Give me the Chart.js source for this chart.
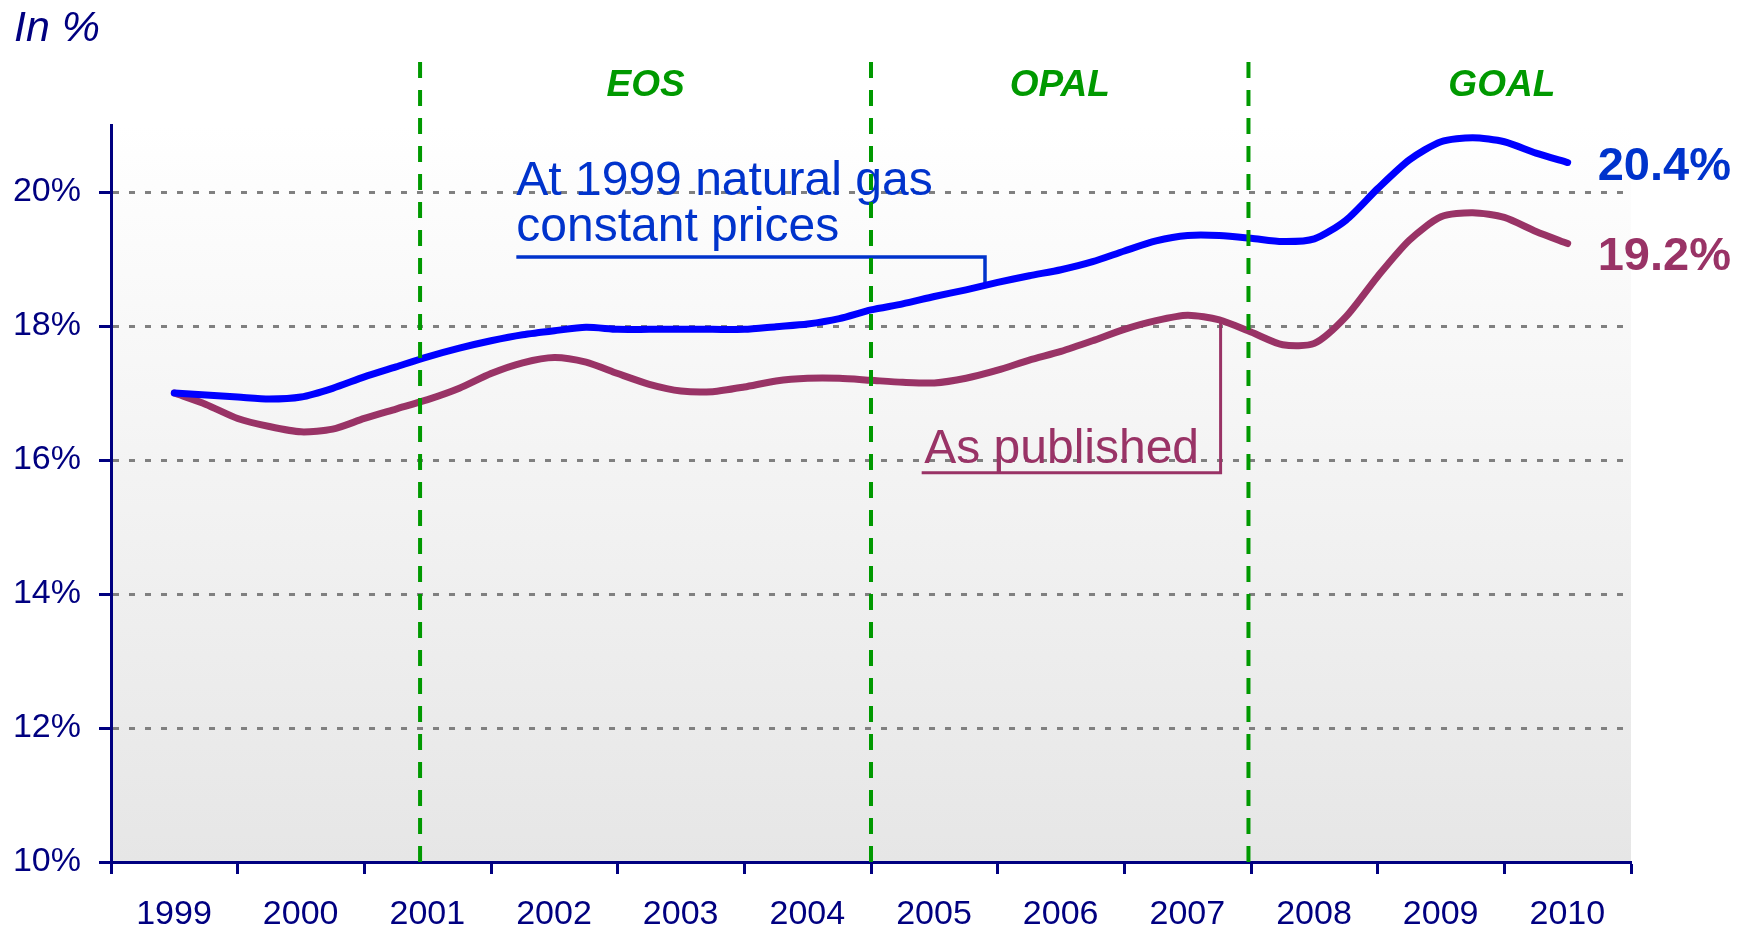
<!DOCTYPE html>
<html>
<head>
<meta charset="utf-8">
<title>Share of natural gas</title>
<script src="https://cdn.jsdelivr.net/npm/chart.js"></script>
<style>
    html, body { margin: 0; padding: 0; background: #fff; }
    #wrap { width: 1748px; height: 928px; }
</style>
</head>
<body>
<div id="wrap"><canvas id="gasChart" width="1748" height="928"></canvas></div>
<script>
// quarterly points, 1999 to 2010
const quarters = [
    1999, 1999.25, 1999.5, 1999.75, 2000, 2000.25, 2000.5, 2000.75,
    2001, 2001.25, 2001.5, 2001.75, 2002, 2002.25, 2002.5, 2002.75,
    2003, 2003.25, 2003.5, 2003.75, 2004, 2004.25, 2004.5, 2004.75,
    2005, 2005.25, 2005.5, 2005.75, 2006, 2006.25, 2006.5, 2006.75,
    2007, 2007.25, 2007.5, 2007.75, 2008, 2008.25, 2008.5, 2008.75,
    2009, 2009.25, 2009.5, 2009.75, 2010
];
const atConstantPrices = [
    17.00, 16.97, 16.94, 16.91, 16.94, 17.07, 17.24, 17.39,
    17.54, 17.67, 17.78, 17.87, 17.93, 17.98, 17.95, 17.95,
    17.95, 17.95, 17.95, 17.99, 18.03, 18.11, 18.24, 18.33,
    18.44, 18.54, 18.65, 18.75, 18.84, 18.96, 19.12, 19.27,
    19.35, 19.35, 19.31, 19.26, 19.30, 19.58, 20.05, 20.48,
    20.75, 20.81, 20.75, 20.58, 20.44
];
const asPublished = [
    17.00, 16.83, 16.62, 16.50, 16.42, 16.46, 16.62, 16.76,
    16.90, 17.07, 17.29, 17.45, 17.53, 17.46, 17.29, 17.13,
    17.03, 17.02, 17.09, 17.18, 17.22, 17.22, 17.19, 17.16,
    17.15, 17.22, 17.34, 17.49, 17.62, 17.78, 17.95, 18.08,
    18.16, 18.09, 17.91, 17.72, 17.74, 18.14, 18.74, 19.28,
    19.63, 19.69, 19.62, 19.41, 19.23
];
const yearLabels = ['1999', '2000', '2001', '2002', '2003', '2004', '2005', '2006', '2007', '2008', '2009', '2010'];
const yTicks = [10, 12, 14, 16, 18, 20];
const endLabels = ['20.4%', '19.2%'];

// programme periods
const phaseBreaks = [2000.94, 2004.5, 2007.48];
const phaseNames = ['EOS', 'OPAL', 'GOAL'];
const phaseCentres = [2002.72, 2005.99, 2009.48];

const NAVY = '#000080';
const BLUE = '#0000ff';
const BLUE_TEXT = '#0033cc';
const PURPLE = '#993366';
const GREEN = '#009900';
const FONT = 'Arial, "Liberation Sans", sans-serif';

Chart.defaults.font.family = FONT;

// value of a series at some x
function valueAt(series, x) {
    for (let i = 1; i < quarters.length; i++) {
        if (x <= quarters[i]) {
            const t = (x - quarters[i - 1]) / (quarters[i] - quarters[i - 1]);
            return series[i - 1] + t * (series[i] - series[i - 1]);
        }
    }
    return series[series.length - 1];
}

// background, notes with leader lines, headings
const notesPlugin = {
    id: 'notes',
    beforeDraw(chart) {
        const { ctx, chartArea: a } = chart;
        const grad = ctx.createLinearGradient(0, a.top, 0, a.bottom);
        grad.addColorStop(0, '#ffffff');
        grad.addColorStop(1, '#e6e6e6');
        ctx.save();
        ctx.fillStyle = grad;
        ctx.fillRect(a.left, a.top, a.right - a.left, a.bottom - a.top);
        ctx.restore();
    },
    beforeDatasetsDraw(chart) {
        const { ctx } = chart;
        const xs = chart.scales.x, ys = chart.scales.y;
        ctx.save();
        ctx.font = '48px ' + FONT;
        ctx.textBaseline = 'alphabetic';
        ctx.textAlign = 'left';

        // blue note
        const bx1 = xs.getPixelForValue(2001.70), bx2 = xs.getPixelForValue(2005.40);
        const bLead = ys.getPixelForValue(19.03);
        ctx.fillStyle = BLUE_TEXT;
        ctx.fillText('At 1999 natural gas', bx1, ys.getPixelForValue(19.96));
        ctx.fillText('constant prices', bx1, ys.getPixelForValue(19.27));
        ctx.strokeStyle = BLUE_TEXT;
        ctx.lineWidth = 3.5;
        ctx.beginPath();
        ctx.moveTo(bx1, bLead);
        ctx.lineTo(bx2, bLead);
        ctx.lineTo(bx2, ys.getPixelForValue(valueAt(atConstantPrices, 2005.40)));
        ctx.stroke();

        // purple note
        const px1 = xs.getPixelForValue(2004.90), px2 = xs.getPixelForValue(2007.26);
        const pLead = ys.getPixelForValue(15.81);
        ctx.fillStyle = PURPLE;
        ctx.fillText('As published', xs.getPixelForValue(2004.92), ys.getPixelForValue(15.95));
        ctx.strokeStyle = PURPLE;
        ctx.lineWidth = 3;
        ctx.beginPath();
        ctx.moveTo(px1, pLead);
        ctx.lineTo(px2, pLead);
        ctx.lineTo(px2, ys.getPixelForValue(valueAt(asPublished, 2007.26)));
        ctx.stroke();
        ctx.restore();
    },
    afterDraw(chart) {
        const { ctx } = chart;
        const xs = chart.scales.x, ys = chart.scales.y;
        ctx.save();

        // unit
        ctx.fillStyle = NAVY;
        ctx.font = 'italic 43px ' + FONT;
        ctx.textAlign = 'left';
        ctx.textBaseline = 'alphabetic';
        ctx.fillText('In %', 14, 41);

        // programme names
        ctx.fillStyle = GREEN;
        ctx.font = 'italic bold 37px ' + FONT;
        ctx.textAlign = 'center';
        ctx.textBaseline = 'middle';
        phaseNames.forEach((name, i) => {
            ctx.fillText(name, xs.getPixelForValue(phaseCentres[i]), ys.getPixelForValue(21.58));
        });

        // last values
        const lastX = xs.getPixelForValue(quarters[quarters.length - 1]) + 30;
        ctx.font = 'bold 47px ' + FONT;
        ctx.textAlign = 'left';
        ctx.fillStyle = BLUE_TEXT;
        ctx.fillText(endLabels[0], lastX, ys.getPixelForValue(atConstantPrices[atConstantPrices.length - 1]) + 5);
        ctx.fillStyle = PURPLE;
        ctx.fillText(endLabels[1], lastX, ys.getPixelForValue(asPublished[asPublished.length - 1] - 0.13) + 5);
        ctx.restore();
    }
};

// boundaries between the years, for the tick marks
const yearEdges = yearLabels.map(y => Number(y) - 0.5).concat(Number(yearLabels[yearLabels.length - 1]) + 0.5);

const datasets = [
    {
        label: 'At 1999 natural gas constant prices',
        data: quarters.map((q, i) => ({ x: q, y: atConstantPrices[i] })),
        borderColor: BLUE,
        borderWidth: 7,
        tension: 0.25,
        borderCapStyle: 'round',
        borderJoinStyle: 'round',
        pointRadius: 0,
        order: 2
    },
    {
        label: 'As published',
        data: quarters.map((q, i) => ({ x: q, y: asPublished[i] })),
        borderColor: PURPLE,
        borderWidth: 7,
        tension: 0.25,
        borderCapStyle: 'round',
        borderJoinStyle: 'round',
        pointRadius: 0,
        order: 3
    }
];
phaseBreaks.forEach(b => {
    datasets.push({
        label: 'break',
        data: [{ x: b, y: 10 }, { x: b, y: 22 }],
        borderColor: GREEN,
        borderWidth: 4,
        borderDash: [16, 12],
        pointRadius: 0,
        clip: false,
        order: 1
    });
});

const ctx = document.getElementById('gasChart').getContext('2d');
new Chart(ctx, {
    type: 'line',
    data: { datasets: datasets },
    plugins: [notesPlugin],
    options: {
        responsive: false,
        animation: false,
        layout: { padding: { top: 125, right: 117, left: 0, bottom: 0 } },
        plugins: {
            legend: { display: false },
            tooltip: { enabled: false }
        },
        scales: {
            x: {
                type: 'linear',
                min: yearEdges[0],
                max: yearEdges[yearEdges.length - 1],
                afterBuildTicks: (scale) => { scale.ticks = yearEdges.map(v => ({ value: v })); },
                afterFit: (scale) => { scale.height = 66; },
                grid: {
                    drawOnChartArea: false,
                    tickLength: 12,
                    tickColor: NAVY,
                    tickWidth: 3,
                    color: NAVY
                },
                border: { color: NAVY, width: 3 },
                ticks: {
                    autoSkip: false,
                    maxRotation: 0,
                    labelOffset: 63,
                    padding: 20,
                    color: NAVY,
                    font: { size: 34 },
                    callback: (value, index) => yearLabels[index] || ''
                }
            },
            y: {
                type: 'linear',
                min: 10,
                max: 21,
                afterBuildTicks: (scale) => { scale.ticks = yTicks.map(v => ({ value: v })); },
                afterFit: (scale) => { scale.width = 111; },
                grid: {
                    color: (c) => (c.tick && c.tick.value === 10) ? 'rgba(0,0,0,0)' : '#808080',
                    lineWidth: 3,
                    tickLength: 12,
                    tickColor: NAVY,
                    tickWidth: 3,
                    tickBorderDash: []
                },
                border: { color: NAVY, width: 3, dash: [6, 10] },
                ticks: {
                    padding: 18,
                    color: NAVY,
                    font: { size: 34 },
                    callback: (value) => value + '%'
                }
            }
        }
    }
});
</script>
</body>
</html>
